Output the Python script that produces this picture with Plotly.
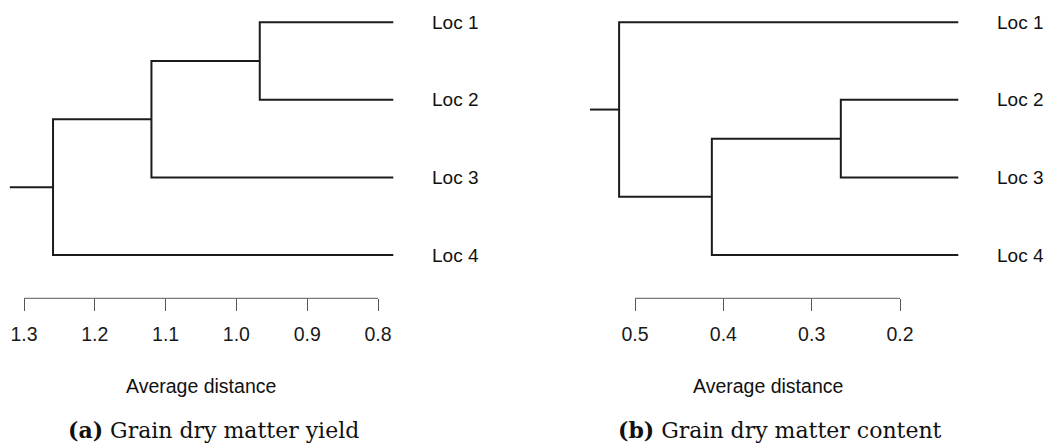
import plotly.graph_objects as go

# ---------------- data ----------------
leaf_labels = ["Loc 1", "Loc 2", "Loc 3", "Loc 4"]
leaf_height = 0.0

# (a) Grain dry matter yield: linkage (node ids: leaves 0..3, new nodes 4..)
yield_left = [0, 4, 5]
yield_right = [1, 2, 3]
yield_height = [0.967, 1.120, 1.259]
yield_stub = 1.320
yield_ticks = [1.3, 1.2, 1.1, 1.0, 0.9, 0.8]

# (b) Grain dry matter content
content_left = [1, 4, 0]
content_right = [2, 3, 5]
content_height = [0.267, 0.413, 0.518]
content_stub = 0.551
content_ticks = [0.5, 0.4, 0.3, 0.2]

axis_title = "Average distance"
captions = ["<b>(a)</b> Grain dry matter yield", "<b>(b)</b> Grain dry matter content"]

# ---------------- layout constants (pixels) ----------------
W, H = 1054, 443
LINE = "#1c1c1c"
AX = "#555555"
SANS = "Liberation Sans, Arial, sans-serif"
SERIF = "DejaVu Serif, serif"

panels = [
    dict(left=yield_left, right=yield_right, height=yield_height, stub=yield_stub,
         ticks=yield_ticks, dom=(0, 393.3), tickpx=(24, 378), labx=429.5, cap=213),
    dict(left=content_left, right=content_right, height=content_height, stub=content_stub,
         ticks=content_ticks, dom=(575, 958.3), tickpx=(635, 900), labx=995, cap=780),
]

# y mapping: leaf 1 at px 22.3, leaf 4 at px 255, plot area from px 0 to 298.3
y_top_px, y_bot_px = 22.3, 255.0
axis_px = 298.3
per = (y_bot_px - y_top_px) / 3
y_at_top = 1 - y_top_px / per
y_at_bot = 1 + (axis_px - y_top_px) / per

fig = go.Figure()
annotations = []
shapes = []

for k, p in enumerate(panels):
    n = len(leaf_labels)
    pos = {i: float(i + 1) for i in range(n)}
    hgt = {i: leaf_height for i in range(n)}
    xs, ys = [], []
    for j, (a, b, h) in enumerate(zip(p["left"], p["right"], p["height"])):
        xs += [hgt[a], h, h, hgt[b], None]
        ys += [pos[a], pos[a], pos[b], pos[b], None]
        node = n + j
        pos[node] = (pos[a] + pos[b]) / 2
        hgt[node] = h
    root = n + len(p["height"]) - 1
    xs += [p["stub"], hgt[root]]
    ys += [pos[root], pos[root]]

    xa = "x" if k == 0 else "x2"
    ya = "y" if k == 0 else "y2"
    fig.add_trace(go.Scatter(x=xs, y=ys, mode="lines", xaxis=xa, yaxis=ya,
                             line=dict(color=LINE, width=2), hoverinfo="skip",
                             showlegend=False))

    # x range from pixel layout
    t0, t1 = p["ticks"][0], p["ticks"][-1]
    px0, px1 = p["tickpx"]
    upp = (t0 - t1) / (px1 - px0)
    d0, d1 = p["dom"]
    rng = [t0 + (px0 - d0) * upp, t0 - (d1 - px0) * upp]
    key = "xaxis" if k == 0 else "xaxis2"
    ykey = "yaxis" if k == 0 else "yaxis2"
    fig.update_layout({
        key: dict(domain=[d0 / W, d1 / W], range=rng, anchor=ya,
                  showgrid=False, zeroline=False, showline=False,
                  tickvals=p["ticks"], ticktext=[f"{v:.1f}" for v in p["ticks"]],
                  ticks="outside", ticklen=12, tickwidth=1, tickcolor=AX,
                  tickfont=dict(family=SANS, size=19.5, color="#1a1a1a"),
                  ticklabelstandoff=6),
        ykey: dict(domain=[1 - axis_px / H, 1], range=[y_at_bot, y_at_top],
                   anchor=xa, visible=False),
    })
    shapes.append(dict(type="line", xref=xa, yref="paper", x0=t0, x1=t1,
                       y0=1 - axis_px / H, y1=1 - axis_px / H,
                       line=dict(color=AX, width=1)))
    for i, lab in enumerate(leaf_labels):
        annotations.append(dict(text=lab, x=p["labx"] / W, xref="paper", xanchor="left",
                                y=pos[i], yref=ya, yanchor="middle", showarrow=False,
                                font=dict(family=SANS, size=19, color="#111111")))
    annotations.append(dict(text=axis_title, x=(px0 + px1) / 2 / W, xref="paper",
                            xanchor="center", y=1 - 386 / H, yref="paper", yanchor="middle",
                            showarrow=False, font=dict(family=SANS, size=19.5, color="#111111")))
    annotations.append(dict(text=captions[k], x=p["cap"] / W, xref="paper",
                            xanchor="center", y=1 - 430 / H, yref="paper", yanchor="middle",
                            showarrow=False, font=dict(family=SERIF, size=22, color="#111111")))

fig.update_layout(width=W, height=H, margin=dict(l=0, r=0, t=0, b=0),
                  paper_bgcolor="white", plot_bgcolor="white",
                  annotations=annotations, shapes=shapes)
fig.write_html("out.html")
